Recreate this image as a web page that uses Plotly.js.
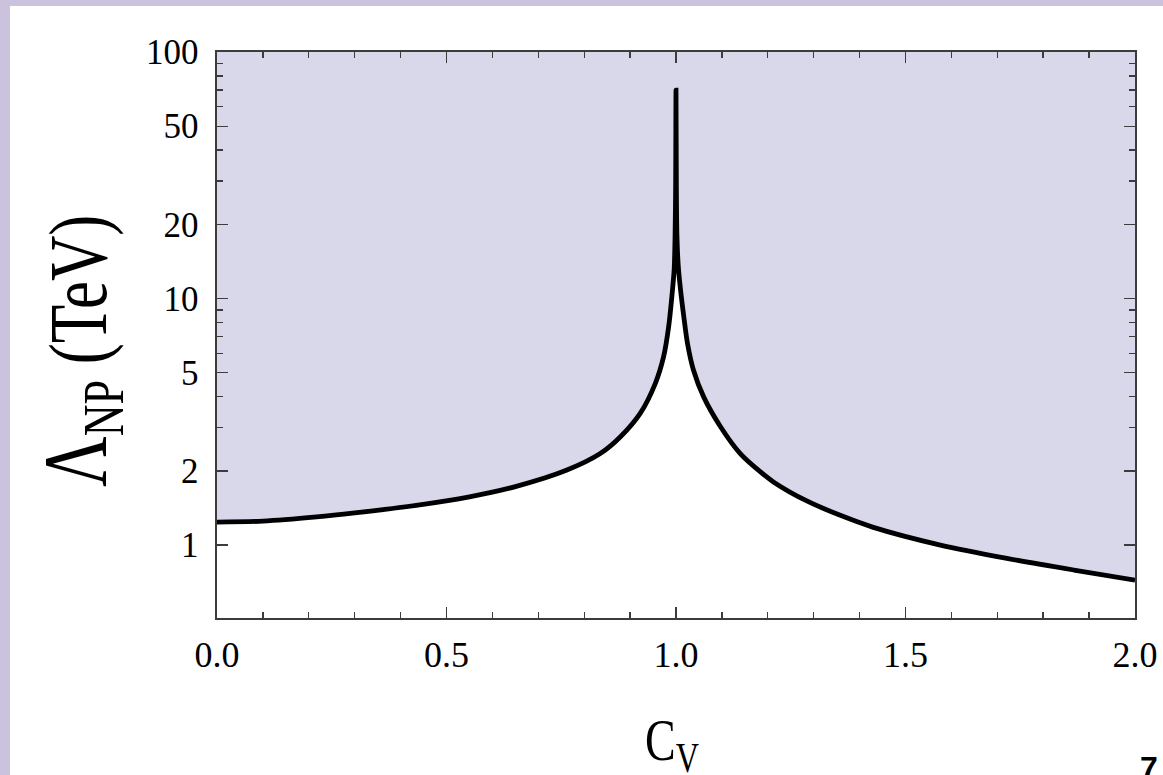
<!DOCTYPE html>
<html>
<head>
<meta charset="utf-8">
<script src="https://cdn.plot.ly/plotly-3.0.1.min.js"></script>
<style>
  html, body { margin: 0; padding: 0; width: 1163px; height: 775px; overflow: hidden; background: #cbc3dd; }
  #frame { position: absolute; left: 10px; top: 6px; width: 1153px; height: 769px; background: #ffffff; }
  #chart { width: 1153px; height: 769px; }
</style>
</head>
<body>
<div id="frame"><div id="chart"></div></div>
<script>
// c_V values and the bound Lambda_NP (TeV)
const cV = [0, 0.1, 0.217, 0.3, 0.434, 0.55, 0.652, 0.761, 0.835, 0.879, 0.922, 0.955, 0.973, 0.984, 0.991, 0.996, 0.998, 0.9992, 1.0,
            1.0008, 1.002, 1.005, 1.010, 1.017, 1.025, 1.038, 1.060, 1.097, 1.140, 1.184, 1.213, 1.285, 1.358, 1.430, 1.576, 1.721, 1.867, 2.0];
const lambdaNP = [1.24, 1.25, 1.30, 1.35, 1.45, 1.57, 1.73, 2.01, 2.35, 2.75, 3.42, 4.53, 5.81, 7.69, 10.2, 13.1, 18, 28, 70,
            28, 18, 13.5, 10.8, 8.44, 6.58, 5.13, 4.0, 3.02, 2.35, 1.98, 1.80, 1.51, 1.32, 1.18, 1.0, 0.883, 0.792, 0.721];

// upper edge of the allowed (shaded) region
const topX = [0, 2];
const topY = [100, 100];

const yTickVals = [1, 2, 5, 10, 20, 50, 100];
const yTickText = ['1', '2', '5', '10', '20', '50', '100'];
const yMinorVals = [3, 4, 6, 7, 8, 9, 30, 40, 60, 70, 80, 90];
const xTickVals = [0, 0.5, 1.0, 1.5, 2.0];
const xTickText = ['0.0', '0.5', '1.0', '1.5', '2.0'];

const serif = 'Liberation Serif, Times New Roman, serif';
const axisCol = '#3c3c3c';

const traces = [
  { x: topX, y: topY, mode: 'lines', line: { width: 0, color: 'rgba(0,0,0,0)' }, hoverinfo: 'skip', showlegend: false },
  { x: cV, y: lambdaNP, mode: 'lines', fill: 'tonexty', fillcolor: '#d9d8ea',
    line: { color: '#000000', width: 4.8, shape: 'spline', smoothing: 0.8 }, showlegend: false }
];

const layout = {
  width: 1153, height: 769,
  margin: { l: 207, r: 28, t: 46, b: 157 },
  paper_bgcolor: '#ffffff', plot_bgcolor: '#ffffff',
  showlegend: false,
  xaxis: {
    range: [0, 2], showgrid: false, zeroline: false,
    showline: true, linecolor: axisCol, linewidth: 1.6, mirror: 'ticks',
    ticks: 'inside', ticklen: 11, tickwidth: 1.4, tickcolor: axisCol,
    tickmode: 'array', tickvals: xTickVals, ticktext: xTickText,
    ticklabelstandoff: 4,
    tickfont: { family: serif, size: 36, color: '#000' },
    minor: { tickmode: 'linear', tick0: 0, dtick: 0.1, ticks: 'inside', ticklen: 6, tickwidth: 1.4, tickcolor: axisCol, showgrid: false }
  },
  yaxis: {
    type: 'log', range: [Math.log10(0.506), 2], showgrid: false, zeroline: false,
    showline: true, linecolor: axisCol, linewidth: 1.6, mirror: 'ticks',
    ticks: 'inside', ticklen: 11, tickwidth: 1.4, tickcolor: axisCol,
    tickmode: 'array', tickvals: yTickVals, ticktext: yTickText,
    ticklabelstandoff: 10,
    tickfont: { family: serif, size: 35, color: '#000' },
    minor: { tickmode: 'array', tickvals: yMinorVals, ticks: 'inside', ticklen: 6, tickwidth: 1.4, tickcolor: axisCol, showgrid: false }
  },
  annotations: [
    { xref: 'paper', yref: 'paper', x: 0, y: 0.4717, xshift: -137, xanchor: 'center', yanchor: 'middle',
      textangle: -90, showarrow: false,
      text: '<span style="font-size:70px">Λ</span><sub>NP</sub> (TeV)',
      font: { family: serif, size: 63, color: '#000' } },
    { xref: 'paper', yref: 'paper', x: 0.4955, y: 0, yshift: -126, xanchor: 'center', yanchor: 'middle',
      showarrow: false, text: 'C<sub>V</sub>',
      font: { family: serif, size: 46, color: '#000' } },
    { xref: 'paper', yref: 'paper', x: 1.0149, y: 0, yshift: -150, xanchor: 'center', yanchor: 'middle',
      showarrow: false, text: '<b>7</b>',
      font: { family: 'Liberation Sans, Arial, sans-serif', size: 32, color: '#000' } }
  ]
};

Plotly.newPlot('chart', traces, layout, { displayModeBar: false, staticPlot: true }).then(function (gd) {
  try {
    const anns = gd.querySelectorAll('.annotation');
    [0, 1].forEach(function (i) {
      const g = anns[i];
      if (!g) return;
      const t = g.querySelector('text.annotation-text');
      if (!t) return;
      const bb = t.getBBox();
      const cx = bb.x + bb.width / 2, cy = bb.y + bb.height / 2;
      t.setAttribute('transform', 'translate(' + cx + ',' + cy + ') scale(1,1.3) translate(' + (-cx) + ',' + (-cy) + ')');
    });
  } catch (e) {}
});
</script>
</body>
</html>
